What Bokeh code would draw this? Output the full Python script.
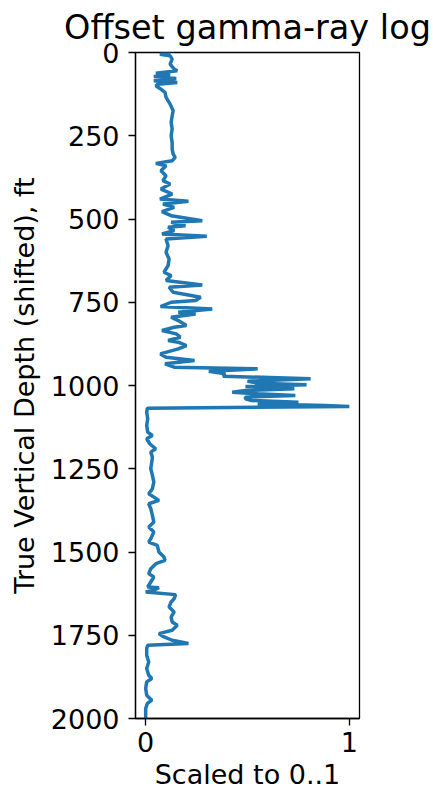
from bokeh.plotting import figure
from bokeh.models import Range1d, FixedTicker
from bokeh.embed import file_html
from bokeh.resources import INLINE

depth = [0, 5, 10, 20, 35, 50, 55, 62, 68, 72, 78, 85, 90, 95, 100, 108, 120, 135, 155, 175,
         190, 210, 230, 250, 270, 290, 305, 315, 325, 333, 340, 355, 370, 385, 395, 410, 425, 440, 447, 455,
         465, 478, 490, 505, 510, 520, 525, 535, 545, 552, 560, 580, 600, 620, 640, 660, 670, 685, 698, 705,
         720, 735, 745, 750, 763, 770, 780, 785, 795, 805, 820, 825, 835, 845, 855, 865, 870, 880, 890, 905,
         915, 925, 935, 945, 950, 957, 965, 972, 980, 987, 993, 998, 1003, 1010, 1015, 1020, 1025, 1030, 1035, 1040,
         1045, 1050, 1055, 1060, 1063, 1068, 1080, 1100, 1120, 1140, 1150, 1160, 1175, 1190, 1200, 1215, 1230, 1250, 1270, 1290,
         1310, 1325, 1345, 1355, 1370, 1390, 1410, 1425, 1440, 1460, 1470, 1480, 1500, 1515, 1525, 1535, 1550, 1565, 1575, 1590,
         1605, 1607, 1615, 1620, 1628, 1640, 1650, 1665, 1680, 1695, 1710, 1720, 1735, 1745, 1755, 1765, 1775, 1780, 1790, 1810,
         1830, 1850, 1870, 1880, 1890, 1910, 1930, 1945, 1955, 1970, 1990, 2000]
gamma = [0.12, 0.07, 0.12, 0.13, 0.12, 0.14, 0.155, 0.05, 0.12, 0.04, 0.15, 0.04, 0.155, 0.06, 0.05, 0.07, 0.095, 0.10, 0.12, 0.135,
         0.13, 0.125, 0.13, 0.125, 0.13, 0.13, 0.135, 0.145, 0.13, 0.05, 0.10, 0.075, 0.10, 0.085, 0.12, 0.075, 0.13, 0.07, 0.21, 0.085,
         0.14, 0.08, 0.125, 0.278, 0.125, 0.195, 0.11, 0.14, 0.08, 0.30, 0.10, 0.11, 0.10, 0.115, 0.11, 0.09, 0.125, 0.10, 0.278, 0.115,
         0.135, 0.27, 0.245, 0.125, 0.073, 0.327, 0.16, 0.245, 0.125, 0.16, 0.20, 0.14, 0.08, 0.15, 0.17, 0.11, 0.16, 0.20, 0.16, 0.072,
         0.10, 0.24, 0.095, 0.14, 0.55, 0.31, 0.39, 0.38, 0.81, 0.50, 0.55, 0.79, 0.49, 0.73, 0.49, 0.425, 0.55, 0.735, 0.49, 0.49,
         0.52, 0.75, 0.55, 0.88, 1.0, 0.008, 0.005, 0.01, 0.005, 0.01, 0.033, 0.005, 0.02, 0.049, 0.025, 0.033, 0.03, 0.025, 0.033, 0.04,
         0.033, 0.015, 0.065, 0.015, 0.025, 0.033, 0.04, 0.015, 0.04, 0.025, 0.015, 0.057, 0.065, 0.09, 0.095, 0.05, 0.025, 0.015, 0.04, 0.025,
         0.01, 0.065, 0.04, 0.0, 0.147, 0.14, 0.125, 0.115, 0.14, 0.125, 0.13, 0.155, 0.13, 0.065, 0.09, 0.13, 0.21, 0.01, 0.005, 0.005,
         0.015, 0.005, 0.015, 0.03, 0.005, 0.0, 0.005, 0.03, 0.008, 0.0, 0.0, 0.0]

y_ticks = [0, 250, 500, 750, 1000, 1250, 1500, 1750, 2000]
x_ticks = [0, 1]

FONT = "DejaVu Sans"

p = figure(width=433, height=793, output_backend="svg", toolbar_location=None,
           x_range=Range1d(-0.05, 1.05), y_range=Range1d(2000, 0),
           min_border_left=135, min_border_right=74, min_border_top=50, min_border_bottom=75,
           title="Offset gamma-ray log")

p.line(gamma, depth, line_color="#1f77b4", line_width=3.5)

p.title.text_font = FONT
p.title.text_font_size = "33.5px"
p.title.text_font_style = "normal"
p.title.text_color = "black"
p.title.align = "center"
p.title.standoff = 11

p.xgrid.visible = False
p.ygrid.visible = False
p.outline_line_color = "black"
p.outline_line_width = 1.3
p.outline_line_alpha = 1.0

for ax in (p.xaxis[0], p.yaxis[0]):
    ax.major_label_text_font = FONT
    ax.major_label_text_font_size = "27px"
    ax.major_label_text_color = "black"
    ax.axis_label_text_font = FONT
    ax.axis_label_text_font_size = "27px"
    ax.axis_label_text_font_style = "normal"
    ax.axis_label_text_color = "black"
    ax.axis_line_color = "black"
    ax.axis_line_width = 1.3
    ax.major_tick_line_color = "black"
    ax.major_tick_line_width = 1.3
    ax.major_tick_in = 0
    ax.major_tick_out = 7
    ax.minor_tick_line_color = None

p.xaxis.ticker = FixedTicker(ticks=x_ticks)
p.yaxis.ticker = FixedTicker(ticks=y_ticks)
p.xaxis.axis_label = "Scaled to 0..1"
p.yaxis.axis_label = "True Vertical Depth (shifted), ft"
p.xaxis.major_label_standoff = 6
p.xaxis.axis_label_standoff = 4
p.yaxis.major_label_standoff = 9
p.yaxis.axis_label_standoff = 8

open("out.html", "w").write(file_html(p, INLINE))
